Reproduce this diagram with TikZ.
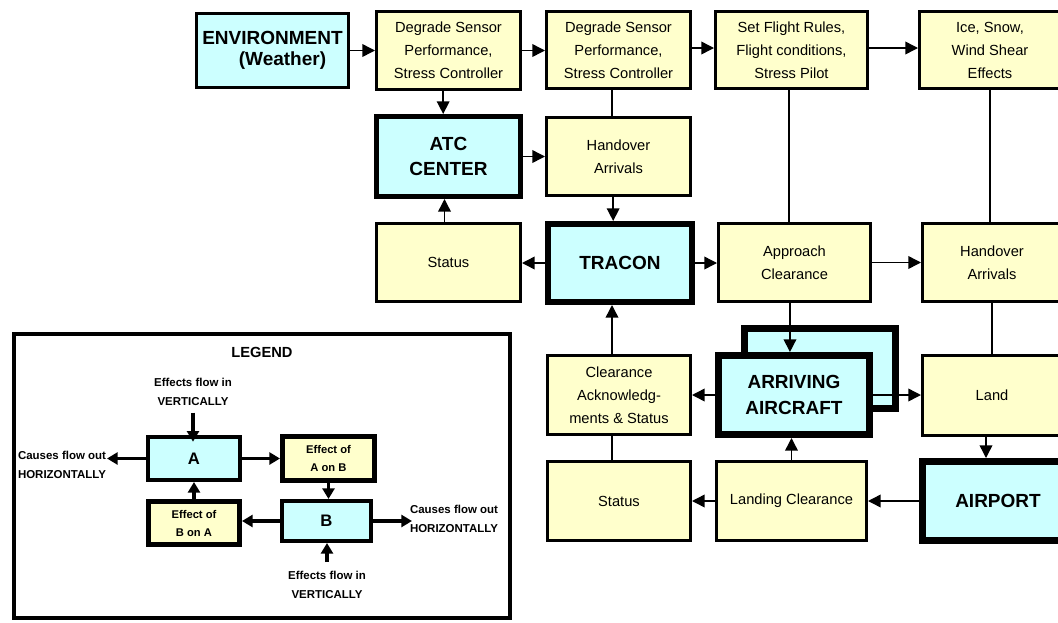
\documentclass[tikz,border=0pt]{standalone}
\usepackage{fontspec}
\setmainfont{Liberation Sans}
\usetikzlibrary{arrows.meta}

\definecolor{boxyellow}{RGB}{255,255,204}
\definecolor{boxcyan}{RGB}{204,255,255}

% \pbox{name}{style}{line width px}{x1}{y1}{x2}{y2}{text}: a box given by its outer corners
\newcommand\pbox[8]{%
  \node[#2, line width={#3*0.75pt},
        minimum width={(#6-#4-#3)*0.75pt},
        minimum height={(#7-#5-#3)*0.75pt}]
    (#1) at ({(#4+#6)/2},{(#5+#7)/2}) {#8};}

\tikzset{
  basebox/.style={draw=black, inner sep=0pt, align=center},
  ybox/.style={basebox, fill=boxyellow, font=\fontsize{11}{17.25}\selectfont},
  cbox/.style={basebox, fill=boxcyan, font=\bfseries\fontsize{14.25}{18.75}\selectfont},
  plainbox/.style={basebox, fill=white},
  link/.style={line width=1.1pt},
  flow/.style={link, -{Triangle[length=9.5pt,width=9.5pt]}},
  lflow/.style={line width=2.5pt, -{Triangle[length=8pt,width=9pt]}},
  lcbox/.style={basebox, fill=boxcyan, font=\bfseries\fontsize{12.5}{15}\selectfont},
  lybox/.style={basebox, fill=boxyellow, font=\bfseries\fontsize{8.4}{13.5}\selectfont},
  ltext/.style={inner sep=0pt, align=center, font=\bfseries\fontsize{8.6}{14.25}\selectfont},
  ltitle/.style={inner sep=0pt, font=\bfseries\fontsize{11}{13}\selectfont},
}

\begin{document}
\begin{tikzpicture}[x=0.75pt,y=-0.75pt]
\useasboundingbox (0,0) rectangle (1058,622);
\clip (0,0) rectangle (1058,622);

% ---- main flow network ----
\pbox{env}{cbox, font=\bfseries\fontsize{14.25}{16}\selectfont}{3.3}{195}{12}{350}{89}{ENVIRONMENT\\\hspace*{1.05em}(Weather)}
\pbox{deg1}{ybox}{2.7}{375}{10}{522}{91}{Degrade Sensor\\Performance,\\Stress Controller}
\pbox{deg2}{ybox}{2.7}{545}{10}{692}{90}{Degrade Sensor\\Performance,\\Stress Controller}
\pbox{rules}{ybox}{2.7}{714}{10}{869}{90}{Set Flight Rules,\\Flight conditions,\\Stress Pilot}
\pbox{ice}{ybox}{2.7}{918}{10}{1062}{90}{Ice, Snow,\\Wind Shear\\Effects}

\pbox{atc}{cbox}{5}{374}{114}{523}{199}{ATC\\CENTER}
\pbox{hand1}{ybox}{2.7}{545}{116}{692}{197}{Handover\\Arrivals}

\pbox{status1}{ybox}{2.7}{375}{222}{522}{303}{Status}
\pbox{tracon}{cbox}{6}{545}{221}{695}{305}{TRACON}
\pbox{appr}{ybox}{2.7}{717}{222}{872}{303}{Approach\\Clearance}
\pbox{hand2}{ybox}{2.7}{921}{222}{1063}{303}{Handover\\Arrivals}

\pbox{clear}{ybox}{2.7}{546}{354}{692}{436}{Clearance\\Acknowledg-\\ments \& Status}
\pbox{arrback}{cbox}{6.7}{741}{325}{899}{412}{}
\pbox{arr}{cbox, font=\bfseries\fontsize{14.25}{20}\selectfont}{7}{715}{352}{873}{438}{ARRIVING\\AIRCRAFT}
\pbox{land}{ybox}{2.7}{921}{354}{1063}{437}{Land}

\pbox{status2}{ybox}{2.7}{546}{460}{692}{542}{Status}
\pbox{landclr}{ybox}{2.7}{715}{460}{868}{542}{Landing Clearance}
\pbox{airport}{cbox}{6.7}{919}{458}{1077}{544}{AIRPORT}

% connectors along the top row
\draw[flow] (env.east) -- (env.east -| deg1.west);
\draw[flow] (deg1.east) -- (deg1.east -| deg2.west);
\draw[flow] ([yshift=1.5pt]deg2.east) -- ([yshift=1.5pt]deg2.east -| rules.west);
\draw[flow] ([yshift=1.5pt]rules.east) -- ([yshift=1.5pt]rules.east -| ice.west);

% vertical links
\draw[flow] ([xshift=-4pt]deg1.south) -- ([xshift=-4pt]deg1.south |- atc.north);
\draw[link] ([xshift=-5pt]deg2.south) -- ([xshift=-5pt]deg2.south |- hand1.north);
\draw[link] ([xshift=-2pt]rules.south) -- ([xshift=-2pt]rules.south |- appr.north);
\draw[link] (ice.south) -- (ice.south |- hand2.north);
\draw[flow] (atc.east) -- (atc.east -| hand1.west);
\draw[flow] ([xshift=-4pt]hand1.south) -- ([xshift=-4pt]hand1.south |- tracon.north);
\draw[flow] ([xshift=-3pt]status1.north) -- ([xshift=-3pt]status1.north |- atc.south);

% TRACON row
\draw[flow] (tracon.west) -- (tracon.west -| status1.east);
\draw[flow] (tracon.east) -- (tracon.east -| appr.west);
\draw[flow] (appr.east) -- (appr.east -| hand2.west);
\draw[flow] ([xshift=-3.4pt]appr.south) -- ([xshift=-3.4pt]appr.south |- arr.north);
\draw[link] (hand2.south) -- (hand2.south |- land.north);

% aircraft row
\draw[flow] (arr.east) -- (arr.east -| land.west);
\draw[flow] (arr.west) -- (arr.west -| clear.east);
\draw[flow] ([xshift=-5.25pt]clear.north) -- ([xshift=-5.25pt]clear.north |- tracon.south);
\draw[link] ([xshift=-5.25pt]clear.south) -- ([xshift=-5.25pt]clear.south |- status2.north);
\draw[flow] (landclr.north) -- (landclr.north |- arr.south);
\draw[flow] ([xshift=-4.5pt]land.south) -- ([xshift=-4.5pt]land.south |- airport.north);

% bottom row
\draw[flow] (airport.west) -- (airport.west -| landclr.east);
\draw[flow] (landclr.west) -- (landclr.west -| status2.east);

% ---- legend ----
\pbox{legend}{plainbox}{4}{12}{332}{512}{620}{}
\node[ltitle] (lgtitle) at (262,352) {LEGEND};
\node[ltext] (inA) at (193,392) {Effects flow in\\VERTICALLY};
\pbox{A}{lcbox}{4}{146}{435}{242}{482}{A}
\pbox{AonB}{lybox}{5}{280}{434}{377}{483}{Effect of\\A on B}
\pbox{BonA}{lybox}{5}{146}{499}{242}{547}{Effect of\\B on A}
\pbox{B}{lcbox}{4}{280}{499}{373}{543}{B}
\node[ltext] (outA) at (62,465) {Causes flow out\\HORIZONTALLY};
\coordinate (outAtip) at (107,460);
\node[ltext] (outB) at (454,519) {Causes flow out\\HORIZONTALLY};
\coordinate (outBtip) at (412,520);
\node[ltext] (inB) at (327,585) {Effects flow in\\VERTICALLY};
\coordinate (inBtail) at (327,562);

\draw[lflow] ([yshift=-5pt]inA.south) -- ([yshift=-5pt]inA.south |- A.north);
\draw[lflow] (A.west) -- (A.west -| outAtip);
\draw[lflow] (A.east) -- (A.east -| AonB.west);
\draw[lflow] (AonB.south) -- (AonB.south |- B.north);
\draw[lflow] (BonA.north) -- (BonA.north |- A.south);
\draw[lflow] (B.west) -- (B.west -| BonA.east);
\draw[lflow] (B.east) -- (B.east -| outBtip);
\draw[lflow] (inBtail) -- (inBtail |- B.south);
\end{tikzpicture}
\end{document}
